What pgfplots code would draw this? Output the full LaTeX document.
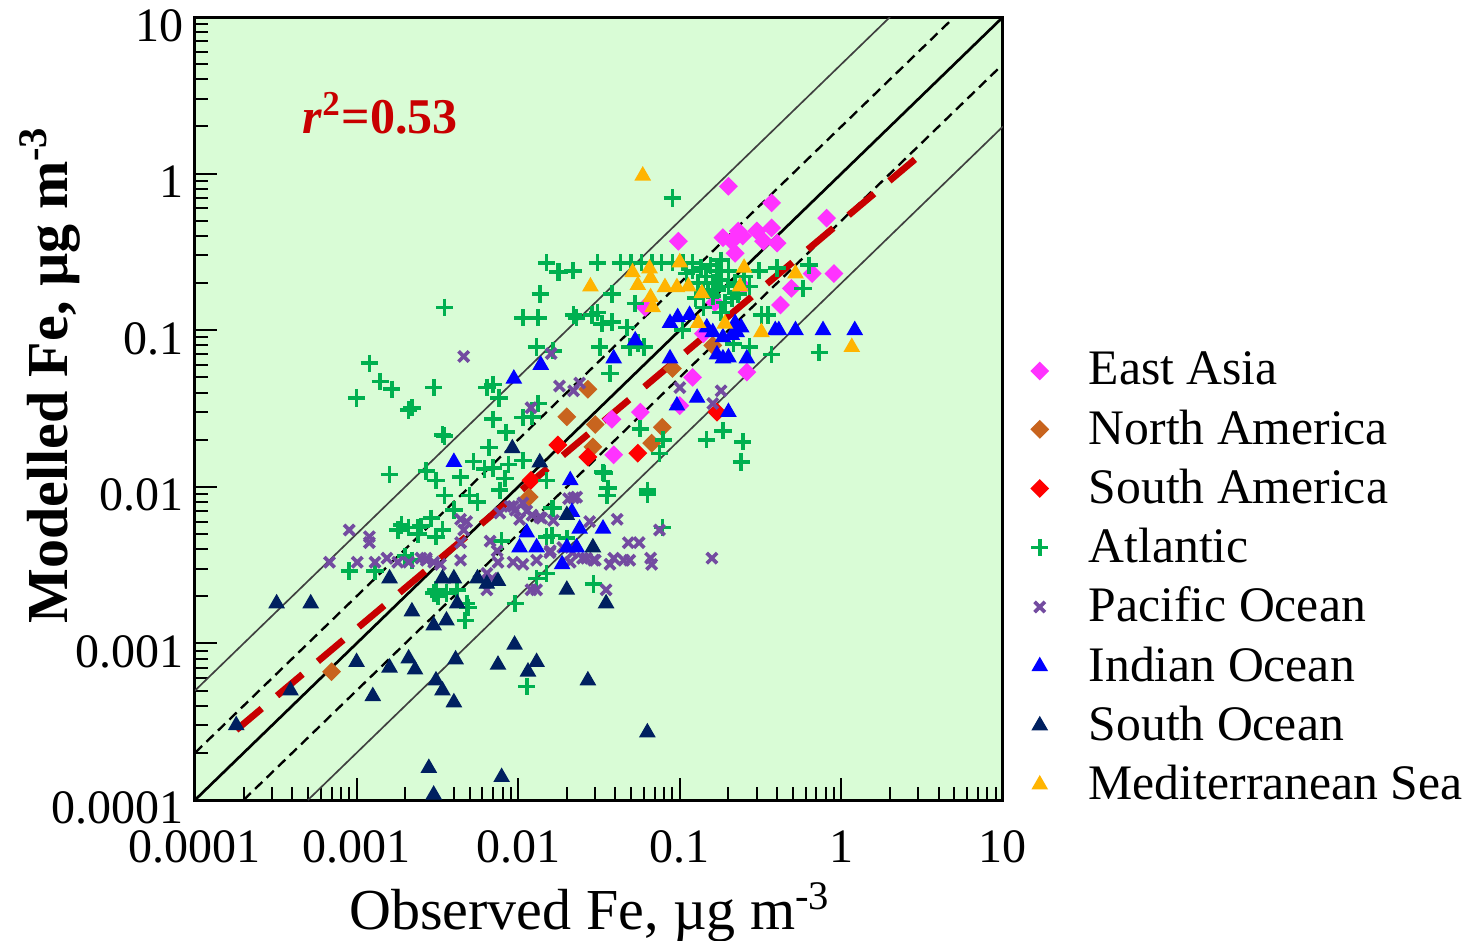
\documentclass[border=0pt]{standalone}
\usepackage{fontspec}
\setmainfont{Liberation Serif}
\usepackage{pgfplots}
\pgfplotsset{compat=1.18}

\definecolor{bggreen}{RGB}{217,252,214}
\definecolor{eastasia}{RGB}{255,51,255}
\definecolor{northam}{RGB}{200,100,30}
\definecolor{southam}{RGB}{255,0,0}
\definecolor{atlantic}{RGB}{0,176,80}
\definecolor{pacific}{RGB}{115,75,160}
\definecolor{indian}{RGB}{0,0,255}
\definecolor{southoc}{RGB}{0,32,96}
\definecolor{medsea}{RGB}{255,180,0}
\definecolor{fitred}{RGB}{200,0,0}

\newcommand{\tickfont}{\fontsize{14.4}{17}\selectfont}
\newcommand{\legfont}{\fontsize{14.9}{17}\selectfont}
\newcommand{\labfont}{\fontsize{17.4}{20}\selectfont}

\begin{document}
\begin{tikzpicture}
\begin{axis}[
    name=ax,
    scale only axis,
    width=242.4pt, height=234.9pt,
    xmode=log, ymode=log,
    xmin=1e-4, xmax=10, ymin=1e-4, ymax=10,
    xtick={1e-4,1e-3,1e-2,1e-1,1,10},
    ytick={1e-4,1e-3,1e-2,1e-1,1,10},
    xticklabels={0.0001,0.001,0.01,0.1,1,10},
    yticklabels={0.0001,0.001,0.01,0.1,1,10},
    tick pos=left,
    tick align=inside,
    major tick length=6.5pt,
    minor tick length=4pt,
    every tick/.style={black, line width=0.6pt},
    axis line style={line width=0.9pt},
    axis background/.style={fill=bggreen},
    tick label style={font=\tickfont},
    xticklabel style={yshift=-5.7pt},
    yticklabel style={yshift=-2.5pt},
    /pgf/number format/assume math mode=true,
    xlabel={Observed Fe, µg m\textsuperscript{-3}},
    ylabel={\bfseries Modelled Fe, µg m\textsuperscript{-3}},
    xlabel style={font=\labfont, at={(axis description cs:0.489,-0.166)}, anchor=base},
    ylabel style={font=\labfont, at={(axis description cs:-0.158,0.543)}, anchor=base},
    legend style={at={(axis description cs:1.015,0.59)}, anchor=north west,
        draw=none, fill=none, font=\legfont, row sep=1.9pt},
    legend cell align=left,
    legend image code/.code={
        \path (0pt,0pt) (16.5pt,0pt);
        \draw[#1] plot coordinates {(4pt,0pt)};
    },
    clip=true,
]
\coordinate (ax-o) at (rel axis cs:0,0);

% East Asia
\addplot[only marks, mark=square*, mark size=1.8pt, mark options={rotate=45, draw=eastasia, fill=eastasia}]
coordinates {
(0.2,0.83) (0.37,0.65) (0.81,0.52) (0.098,0.37) (0.185,0.39) (0.21,0.37)
(0.23,0.43) (0.245,0.40) (0.30,0.43) (0.33,0.37) (0.37,0.45) (0.40,0.36)
(0.22,0.31) (0.66,0.23) (0.9,0.23) (0.49,0.185) (0.42,0.145) (0.165,0.15)
(0.245,0.19) (0.061,0.14) (0.14,0.095) (0.26,0.054) (0.12,0.05) (0.057,0.03)
(0.1,0.033) (0.038,0.027) (0.039,0.016)
};
\addlegendentry{East Asia}

% North America
\addplot[only marks, mark=square*, mark size=1.8pt, mark options={rotate=45, draw=northam, fill=northam}]
coordinates {
(0.027,0.042) (0.02,0.028) (0.03,0.025) (0.029,0.018) (0.0117,0.0086)
(0.09,0.057) (0.078,0.024) (0.067,0.019) (0.16,0.08) (0.0007,0.00066)
};
\addlegendentry{North America}

% South America
\addplot[only marks, mark=square*, mark size=1.8pt, mark options={rotate=45, draw=southam, fill=southam}]
coordinates {
(0.0176,0.0185) (0.027,0.0155) (0.17,0.03) (0.055,0.0164) (0.012,0.011)
};
\addlegendentry{South America}

% Atlantic
\addplot[only marks, mark=+, mark size=2.6pt, mark options={draw=atlantic, line width=1.1pt}]
coordinates {
(0.015,0.27) (0.0175,0.235) (0.0137,0.17) (0.0035,0.14) (0.0107,0.12) (0.0133,0.12)
(0.023,0.12) (0.031,0.13) (0.0012,0.0615) (0.0014,0.047) (0.00165,0.042) (0.001,0.037)
(0.0021,0.031) (0.003,0.043) (0.0064,0.043) (0.007,0.045) (0.0076,0.037) (0.013,0.078)
(0.0165,0.074) (0.0133,0.034) (0.0107,0.0277) (0.0122,0.028) (0.007,0.027) (0.0084,0.0223)
(0.0035,0.0211) (0.0066,0.0178) (0.0053,0.0145) (0.007,0.0132) (0.0087,0.0139) (0.0107,0.0147)
(0.0062,0.013) (0.0016,0.012) (0.0027,0.0126) (0.0031,0.011) (0.0044,0.0115) (0.0083,0.0113)
(0.0035,0.0088) (0.005,0.0088) (0.0056,0.008) (0.004,0.0071) (0.0077,0.0095) (0.0165,0.0073)
(0.015,0.011) (0.0029,0.0063) (0.0018,0.0053) (0.0021,0.0055) (0.0024,0.0055) (0.0034,0.0053)
(0.0031,0.0048) (0.0024,0.005) (0.0079,0.0045) (0.015,0.0048) (0.02,0.0047)
(0.0009,0.0029) (0.0013,0.0029) (0.002,0.0036) (0.0031,0.0022) (0.0032,0.002) (0.0048,0.0018)
(0.0049,0.0017) (0.0047,0.0014) (0.0042,0.0022) (0.0096,0.0018) (0.0292,0.0024) (0.0113,0.00053)
(0.0022,0.032) (0.0034,0.0215) (0.0335,0.0124) (0.036,0.0098) (0.0355,0.0088) (0.063,0.0095)
(0.078,0.0055) (0.057,0.0235) (0.079,0.02) (0.075,0.0163) (0.146,0.02) (0.185,0.0228)
(0.245,0.0194) (0.24,0.0144) (0.0162,0.0049) (0.0022,0.0034) (0.003,0.0021) (0.0036,0.0021)
(0.0019,0.0057) (0.0025,0.0056) (0.015,0.0028) (0.013,0.0026) (0.09,0.7)
(0.031,0.27) (0.043,0.27) (0.05,0.27) (0.058,0.27) (0.067,0.27) (0.077,0.27) (0.09,0.27)
(0.105,0.27) (0.12,0.27) (0.018,0.235) (0.0218,0.24) (0.155,0.26) (0.18,0.28) (0.31,0.24)
(0.4,0.25) (0.58,0.185) (0.63,0.26)
(0.145,0.22) (0.16,0.2) (0.17,0.18) (0.18,0.21) (0.2,0.19) (0.21,0.16) (0.19,0.15)
(0.16,0.165) (0.22,0.2) (0.25,0.22) (0.23,0.17) (0.13,0.2) (0.12,0.24) (0.14,0.17)
(0.2,0.24) (0.27,0.19) (0.11,0.23) (0.135,0.25) (0.15,0.18) (0.17,0.24) (0.14,0.14)
(0.125,0.16) (0.18,0.13)
(0.038,0.17) (0.053,0.148) (0.022,0.125) (0.0285,0.125) (0.038,0.113) (0.047,0.104)
(0.033,0.11) (0.032,0.078) (0.049,0.078) (0.06,0.078) (0.037,0.053) (0.104,0.1)
(0.32,0.125) (0.35,0.125) (0.37,0.07) (0.73,0.072) (0.034,0.0122) (0.215,0.082)
(0.27,0.078) (0.055,0.083) (0.0162,0.0073) (0.063,0.009)
};
\addlegendentry{Atlantic}

% Pacific Ocean
\addplot[only marks, mark=x, mark size=2.2pt, mark options={draw=pacific, line width=1.1pt}]
coordinates {
(0.0009,0.0053) (0.0012,0.0048) (0.0012,0.0044) (0.00068,0.0033) (0.00101,0.0033) (0.0013,0.0033)
(0.00154,0.0035) (0.0018,0.0033) (0.0021,0.0033) (0.0025,0.0035) (0.0027,0.0034) (0.003,0.0033)
(0.0044,0.0034) (0.0075,0.0033) (0.0069,0.0026) (0.0093,0.0033) (0.0107,0.0032) (0.013,0.0034)
(0.0157,0.0038) (0.0189,0.0041) (0.0217,0.0038) (0.0265,0.0035) (0.03,0.0034) (0.012,0.0022)
(0.0064,0.0022) (0.0077,0.0068) (0.0093,0.0075) (0.0113,0.007) (0.0136,0.0064) (0.0165,0.0061)
(0.023,0.0086) (0.0277,0.006) (0.0048,0.006) (0.0044,0.0044) (0.0096,0.0071) (0.0102,0.0062)
(0.0122,0.0066) (0.014,0.0063) (0.0205,0.0084) (0.022,0.0085) (0.041,0.0062) (0.075,0.0053)
(0.048,0.0044) (0.056,0.0044) (0.045,0.0034) (0.049,0.0034) (0.066,0.0035) (0.067,0.0032)
(0.039,0.0035) (0.037,0.0032) (0.0293,0.0034) (0.025,0.0035) (0.021,0.0033) (0.0158,0.0039)
(0.013,0.0022) (0.035,0.0022) (0.0074,0.0039) (0.0067,0.0045) (0.0044,0.0062) (0.0046,0.0053)
(0.0064,0.0028) (0.0027,0.0035) (0.0033,0.0032) (0.0089,0.0075) (0.0107,0.0079) (0.158,0.0035)
(0.0046,0.068) (0.016,0.071) (0.018,0.044) (0.022,0.041) (0.012,0.032) (0.024,0.046)
(0.1,0.043) (0.18,0.041) (0.16,0.034)
};
\addlegendentry{Pacific Ocean}

% Indian Ocean
\addplot[only marks, mark=triangle*, mark size=2.5pt, mark options={draw=indian, fill=indian}]
coordinates {
(0.087,0.111) (0.097,0.121) (0.115,0.125) (0.147,0.104) (0.16,0.097) (0.185,0.09)
(0.22,0.111) (0.24,0.104) (0.225,0.097) (0.21,0.093) (0.39,0.1) (0.41,0.1)
(0.52,0.1) (0.77,0.1) (1.21,0.1) (0.039,0.066) (0.053,0.086) (0.087,0.066)
(0.185,0.066) (0.2,0.067) (0.26,0.066) (0.17,0.07) (0.128,0.037) (0.2,0.03)
(0.096,0.033) (0.0138,0.06) (0.0094,0.049) (0.004,0.0144) (0.021,0.011) (0.0215,0.0069)
(0.0113,0.0051) (0.0102,0.0041) (0.013,0.0041) (0.02,0.0041) (0.023,0.0041) (0.024,0.0054)
(0.0335,0.0054) (0.0187,0.0032)
};
\addlegendentry{Indian Ocean}

% South Ocean
\addplot[only marks, mark=triangle*, mark size=2.5pt, mark options={draw=southoc, fill=southoc}]
coordinates {
(0.00032,0.0018) (0.00052,0.0018) (0.00018,0.0003) (0.00039,0.0005) (0.001,0.00076) (0.00126,0.00046)
(0.0016,0.0007) (0.0021,0.0008) (0.0023,0.00068) (0.0031,0.00058) (0.0034,0.0005) (0.004,0.00042)
(0.0041,0.00079) (0.0075,0.00073) (0.0095,0.00098) (0.0115,0.00066) (0.013,0.00076) (0.027,0.00058)
(0.0028,0.00016) (0.0079,0.00014) (0.003,0.000108) (0.0016,0.0026) (0.0034,0.0026) (0.004,0.0026)
(0.0022,0.0016) (0.003,0.0013) (0.0036,0.0014) (0.0042,0.0018) (0.0056,0.0026) (0.0064,0.0024)
(0.0075,0.0025) (0.02,0.0022) (0.029,0.0041) (0.035,0.0018) (0.02,0.0066) (0.0092,0.0176)
(0.0136,0.0143) (0.063,0.00027)
};
\addlegendentry{South Ocean}

% Mediterranean Sea
\addplot[only marks, mark=triangle*, mark size=2.5pt, mark options={draw=medsea, fill=medsea}]
coordinates {
(0.059,0.97) (0.028,0.19) (0.051,0.234) (0.065,0.248) (0.1,0.271) (0.055,0.194)
(0.066,0.215) (0.066,0.162) (0.081,0.188) (0.096,0.188) (0.113,0.19) (0.137,0.172)
(0.13,0.111) (0.236,0.19) (0.25,0.25) (0.52,0.23) (0.19,0.11) (0.32,0.097)
(1.16,0.078) (0.068,0.14)
};
\addlegendentry{Mediterranean Sea}

% reference lines 1:1, 2:1, 1:2, 5:1, 1:5
\addplot[forget plot, black, line width=0.8pt] coordinates {(0.0001,0.0001) (10,10)};
\addplot[forget plot, black, line width=0.7pt, dash pattern=on 3pt off 1.8pt] coordinates {(0.0001,0.0002) (5,10)};
\addplot[forget plot, black, line width=0.7pt, dash pattern=on 3pt off 1.8pt] coordinates {(0.0002,0.0001) (10,5)};
\addplot[forget plot, black!75, line width=0.5pt] coordinates {(0.0001,0.0005) (2,10)};
\addplot[forget plot, black!75, line width=0.5pt] coordinates {(0.0005,0.0001) (10,2)};

% regression
\addplot[forget plot, fitred, line width=2pt, dash pattern=on 10pt off 6pt] coordinates {(0.00018,0.00028) (2.98,1.28)};

\node[text=fitred, font=\fontsize{15}{18}\selectfont\bfseries] at (rel axis cs:0.229,0.877) {\textit{r}\textsuperscript{2}=0.53};
\end{axis}
\pgfresetboundingbox
\path (ax-o) ++(-58.5pt,-42pt) rectangle ++(442.8pt,282pt);
\end{tikzpicture}
\end{document}
